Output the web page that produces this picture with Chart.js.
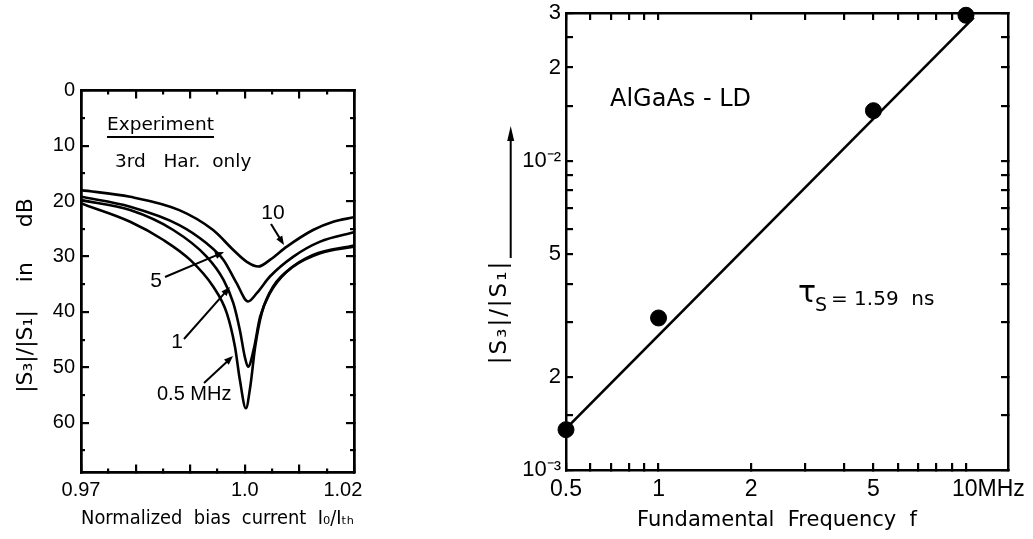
<!DOCTYPE html>
<html>
<head>
<meta charset="utf-8">
<title>3rd harmonic distortion of AlGaAs LD</title>
<script src="https://cdn.jsdelivr.net/npm/chart.js@4/dist/chart.umd.min.js"></script>
<style>
  body { margin: 0; background: #fff; }
  #wrap { position: relative; width: 1033px; height: 539px; }
  canvas { position: absolute; top: 0; }
  #distChart { left: 0; }
  #ratioChart { left: 480px; }
</style>
</head>
<body>
<div id="wrap">
  <canvas id="distChart" width="480" height="539"></canvas>
  <canvas id="ratioChart" width="553" height="539"></canvas>
</div>
<script>
const NUM_FONT = "'Liberation Sans', Arial, sans-serif";
const TXT_FONT = "'DejaVu Sans', 'Liberation Sans', sans-serif";

// left panel: |S3|/|S1| in dB vs normalized bias current, one curve per frequency
const bias05 = [0.970, 0.979, 0.9851, 0.990, 0.9942, 0.9967, 0.9982, 0.9991, 1.0002, 1.0010, 1.0019, 1.0031, 1.0052, 1.0089, 1.0138, 1.020];
const db05   = [20.4, 23.7, 27.0, 30.6, 35.4, 40.2, 46.3, 52.3, 57.4, 53.5, 46.3, 40.2, 35.4, 31.8, 29.4, 28.2];

const bias1 = [0.970, 0.979, 0.9869, 0.993, 0.9961, 0.9979, 0.9991, 1.0000, 1.0006, 1.0016, 1.0028, 1.0046, 1.0077, 1.0125, 1.020];
const db1   = [19.8, 21.6, 25.2, 30.0, 34.2, 38.4, 43.3, 48.1, 49.9, 46.9, 40.9, 36.6, 32.7, 29.7, 28.0];

const bias5 = [0.970, 0.979, 0.988, 0.993, 0.9961, 0.9985, 1.0006, 1.0022, 1.0046, 1.0089, 1.0138, 1.020];
const db5   = [19.2, 21.0, 24.3, 27.6, 30.6, 34.8, 38.1, 36.6, 33.6, 30.0, 27.3, 25.6];

const bias10 = [0.970, 0.979, 0.988, 0.9942, 0.9979, 1.0003, 1.0025, 1.0046, 1.0077, 1.0125, 1.0162, 1.020];
const db10   = [18.0, 19.2, 21.6, 25.2, 28.8, 30.9, 31.8, 30.6, 28.2, 25.2, 23.7, 22.9];

const biasTicks      = [0.97, 0.98, 0.99, 1.0, 1.01, 1.02];
const biasLabels     = ['0.97', '', '', '1.0', '', '1.02    '];
const biasMinorTicks = [0.975, 0.985, 0.995, 1.005, 1.015];
const dbTicks      = [0, 10, 20, 30, 40, 50, 60];
const dbLabels     = ['0', '10', '20', '30', '40', '50', '60'];
const dbMinorTicks = [5, 15, 25, 35, 45, 55, 65];

// right panel: measured ratio vs fundamental frequency, plus fitted line
const freqMHz    = [0.5, 1, 5, 10];
const ratioS3S1  = [0.00135, 0.0031, 0.0145, 0.0295];
const fitFreq    = [0.5, 10.6];
const fitRatio   = [0.00136, 0.0290];

const freqTicks  = [0.5, 0.6, 0.7, 0.8, 0.9, 1, 2, 3, 4, 5, 6, 7, 8, 9, 10];
const freqLabels = ['0.5', '', '', '', '', '1', '2', '', '', '5', '', '', '', '', '       10MHz'];
const ratioTicks  = [0.001, 0.0015, 0.002, 0.003, 0.004, 0.005, 0.006, 0.007, 0.008, 0.009, 0.01, 0.015, 0.02, 0.025, 0.03];
const ratioLabels = ['10⁻³', '', '2', '', '', '5', '', '', '', '', '10⁻²', '', '2', '', '3'];

const toPoints = (xs, ys) => xs.map((x, i) => ({ x: x, y: ys[i] }));

// ticks point into the plot: negative tick length
const inwardGrid = len => ({ display: true, drawOnChartArea: false, drawTicks: true, tickLength: -len, color: '#000', lineWidth: 2.2 });
const frame = { display: true, color: '#000', width: 2.5 };

function setTicks(values) {
    return scale => { scale.ticks = values.map(v => ({ value: v })); };
}
function fixSize(w, h) {
    return scale => {
        if (w !== null) scale.width = w;
        if (h !== null) scale.height = h;
        scale.paddingLeft = 0; scale.paddingRight = 0;
        scale.paddingTop = 0; scale.paddingBottom = 0;
    };
}
// an unlabelled axis used only for its tick marks
function tickAxis(type, position, min, max, values, len, extra) {
    const horizontal = position === 'top' || position === 'bottom';
    return Object.assign({
        type: type, position: position, min: min, max: max, weight: -1,
        afterBuildTicks: setTicks(values),
        afterFit: horizontal ? fixSize(null, 0) : fixSize(0, null),
        grid: inwardGrid(len), border: frame,
        ticks: { display: false }
    }, extra || {});
}

function arrow(ctx, x1, y1, x2, y2, head) {
    const a = Math.atan2(y2 - y1, x2 - x1);
    const h = head || 9;
    ctx.beginPath();
    ctx.moveTo(x1, y1);
    ctx.lineTo(x2 - Math.cos(a) * h * 0.8, y2 - Math.sin(a) * h * 0.8);
    ctx.stroke();
    ctx.beginPath();
    ctx.moveTo(x2, y2);
    ctx.lineTo(x2 - h * Math.cos(a) + 3.5 * Math.sin(a), y2 - h * Math.sin(a) - 3.5 * Math.cos(a));
    ctx.lineTo(x2 - h * Math.cos(a) - 3.5 * Math.sin(a), y2 - h * Math.sin(a) + 3.5 * Math.cos(a));
    ctx.closePath();
    ctx.fill();
}

const leftNotes = {
    id: 'leftNotes',
    afterDraw(chart) {
        const ctx = chart.ctx;
        ctx.save();
        ctx.fillStyle = '#000';
        ctx.strokeStyle = '#000';
        ctx.lineWidth = 2;
        ctx.textBaseline = 'middle';
        ctx.textAlign = 'left';
        ctx.font = '18.5px ' + TXT_FONT;
        ctx.fillText('Experiment', 107, 125);
        ctx.beginPath();
        ctx.moveTo(107, 137);
        ctx.lineTo(214, 137);
        ctx.stroke();
        ctx.fillText('3rd   Har.  only', 115, 162);

        ctx.font = '21px ' + NUM_FONT;
        ctx.textAlign = 'center';
        ctx.fillText('10', 273, 213);
        arrow(ctx, 271, 224, 284, 245);
        ctx.fillText('5', 156, 281);
        arrow(ctx, 165, 277, 224, 252);
        ctx.fillText('1', 177, 342);
        arrow(ctx, 184, 339, 230, 287);
        ctx.font = '20px ' + NUM_FONT;
        ctx.textAlign = 'left';
        ctx.fillText('0.5 MHz', 157, 394);
        arrow(ctx, 204, 383, 233, 356);
        ctx.restore();
    }
};

const rightNotes = {
    id: 'rightNotes',
    afterDraw(chart) {
        const ctx = chart.ctx;
        ctx.save();
        ctx.fillStyle = '#000';
        ctx.strokeStyle = '#000';
        ctx.lineWidth = 2;
        ctx.textBaseline = 'middle';
        ctx.textAlign = 'left';
        ctx.font = '24px ' + TXT_FONT;
        ctx.fillText('AlGaAs - LD', 130, 100);

        ctx.font = '30px ' + TXT_FONT;
        ctx.fillText('τ', 318, 294);
        ctx.font = '19px ' + TXT_FONT;
        ctx.fillText('S', 335, 306);
        ctx.font = '20px ' + TXT_FONT;
        ctx.fillText('= 1.59  ns', 351, 300);

        // rotated y title with long arrow
        ctx.save();
        ctx.translate(20.5, 312);
        ctx.rotate(-Math.PI / 2);
        ctx.textAlign = 'center';
        ctx.font = '23px ' + TXT_FONT;
        ctx.letterSpacing = '2px';
        ctx.fillText('|S₃|/|S₁|', 0, 0);
        ctx.restore();
        arrow(ctx, 30.7, 258, 30.7, 126, 15);
        ctx.restore();
    }
};

new Chart(document.getElementById('distChart'), {
    type: 'line',
    data: {
        datasets: [
            { label: '0.5 MHz', data: toPoints(bias05, db05) },
            { label: '1 MHz', data: toPoints(bias1, db1) },
            { label: '5 MHz', data: toPoints(bias5, db5) },
            { label: '10 MHz', data: toPoints(bias10, db10) }
        ]
    },
    options: {
        responsive: false,
        animation: false,
        layout: { padding: { top: 90.5, right: 126, left: 0, bottom: 0 } },
        elements: {
            line: { borderColor: '#000', borderWidth: 2.6, cubicInterpolationMode: 'monotone', fill: false },
            point: { radius: 0 }
        },
        plugins: { legend: { display: false }, tooltip: { enabled: false } },
        scales: {
            x: {
                type: 'linear', min: 0.97, max: 1.02,
                afterBuildTicks: setTicks(biasTicks),
                afterFit: fixSize(null, 66.5),
                grid: inwardGrid(8), border: frame,
                ticks: {
                    autoSkip: false, maxRotation: 0, padding: 14, color: '#000',
                    font: { family: NUM_FONT, size: 20 },
                    callback: (v, i) => biasLabels[i]
                },
                title: {
                    display: true, text: 'Normalized  bias  current  I₀/Iₜₕ', color: '#000',
                    font: { family: TXT_FONT, size: 19 }, padding: { top: 0, bottom: 9 }
                }
            },
            xMinor: tickAxis('linear', 'bottom', 0.97, 1.02, biasMinorTicks, 4),
            xTop: tickAxis('linear', 'top', 0.97, 1.02, biasTicks, 8),
            xTopMinor: tickAxis('linear', 'top', 0.97, 1.02, biasMinorTicks, 4),
            y: {
                type: 'linear', reverse: true, min: 0, max: 69,
                afterBuildTicks: setTicks(dbTicks),
                afterFit: fixSize(81, null),
                grid: inwardGrid(8), border: frame,
                ticks: {
                    autoSkip: false, padding: 14, color: '#000',
                    font: { family: NUM_FONT, size: 20 },
                    callback: (v, i) => dbLabels[i]
                },
                title: {
                    display: true, text: '|S₃|/|S₁|    in     dB    ', color: '#000',
                    font: { family: TXT_FONT, size: 22 }, padding: { top: 13, bottom: 0 }
                }
            },
            yMinor: tickAxis('linear', 'left', 0, 69, dbMinorTicks, 4, { reverse: true }),
            yRight: tickAxis('linear', 'right', 0, 69, dbTicks, 8, { reverse: true }),
            yRightMinor: tickAxis('linear', 'right', 0, 69, dbMinorTicks, 4, { reverse: true })
        }
    },
    plugins: [leftNotes]
});

new Chart(document.getElementById('ratioChart'), {
    type: 'line',
    data: {
        datasets: [
            {
                label: 'fit', data: toPoints(fitFreq, fitRatio),
                borderColor: '#000', borderWidth: 2.6, pointRadius: 0, fill: false
            },
            {
                label: 'measured', data: toPoints(freqMHz, ratioS3S1),
                showLine: false, pointRadius: 8, pointBackgroundColor: '#000',
                pointBorderColor: '#000', clip: false
            }
        ]
    },
    options: {
        responsive: false,
        animation: false,
        layout: { padding: { top: 13, right: 25, left: 0, bottom: 0 } },
        plugins: { legend: { display: false }, tooltip: { enabled: false } },
        scales: {
            x: {
                type: 'logarithmic', min: 0.5, max: 13.7,
                afterBuildTicks: setTicks(freqTicks),
                afterFit: fixSize(null, 69),
                grid: inwardGrid(7), border: frame,
                ticks: {
                    autoSkip: false, maxRotation: 0, padding: 13, color: '#000',
                    font: { family: NUM_FONT, size: 23 },
                    callback: (v, i) => freqLabels[i]
                },
                title: {
                    display: true, text: 'Fundamental  Frequency  f   ', color: '#000',
                    font: { family: TXT_FONT, size: 21 }, padding: { top: 0, bottom: 6 }
                }
            },
            xTop: tickAxis('logarithmic', 'top', 0.5, 13.7, freqTicks, 7),
            y: {
                type: 'logarithmic', min: 0.001, max: 0.03,
                afterBuildTicks: setTicks(ratioTicks),
                afterFit: fixSize(86, null),
                grid: inwardGrid(7), border: frame,
                ticks: {
                    autoSkip: false, padding: 12, color: '#000',
                    font: { family: NUM_FONT, size: 22 },
                    callback: (v, i) => ratioLabels[i]
                }
            },
            yRight: tickAxis('logarithmic', 'right', 0.001, 0.03, ratioTicks, 7)
        }
    },
    plugins: [rightNotes]
});
</script>
</body>
</html>
